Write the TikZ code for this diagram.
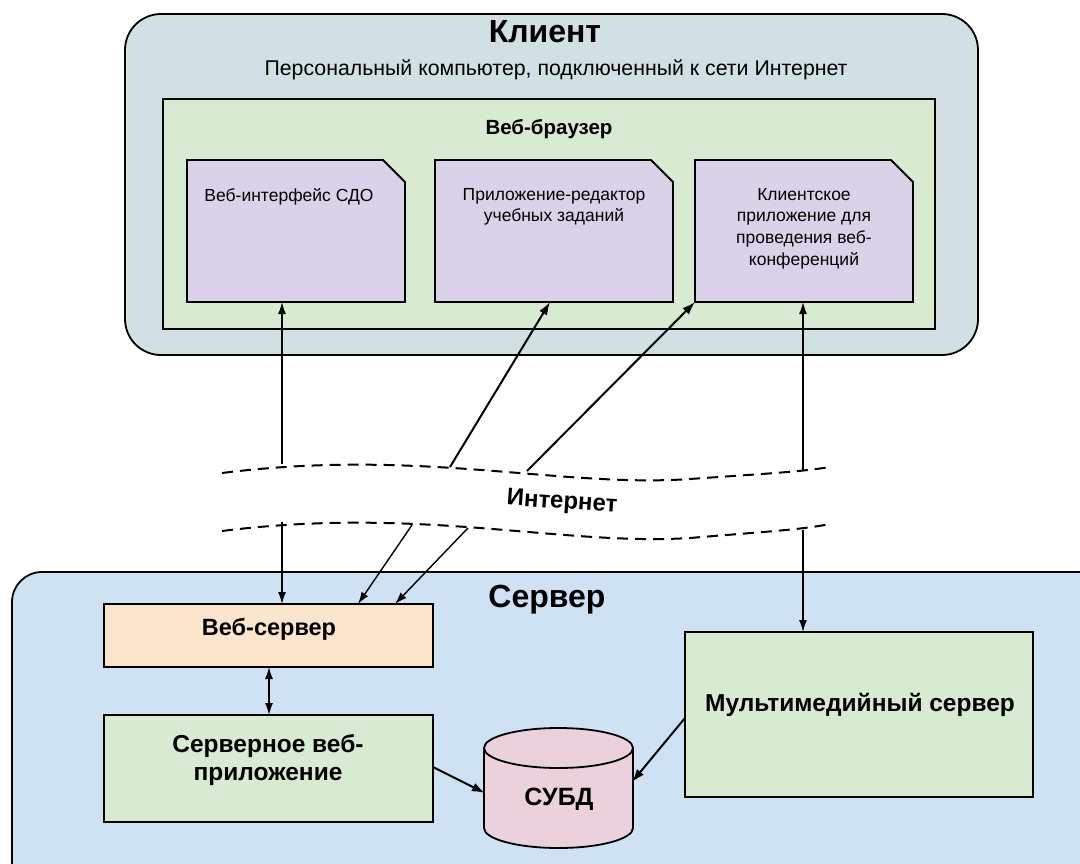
\documentclass[tikz,border=0pt]{standalone}
\usepackage{fontspec}
\setmainfont{Liberation Sans}
\usetikzlibrary{arrows.meta,shapes.geometric}

\definecolor{clientbg}{HTML}{D0E0E3}
\definecolor{serverbg}{HTML}{CFE2F3}
\definecolor{greenbg}{HTML}{D9EAD3}
\definecolor{purplebg}{HTML}{D9D2E9}
\definecolor{orangebg}{HTML}{FCE5CD}
\definecolor{pinkbg}{HTML}{EAD1DC}

\tikzset{
  frame/.style={draw=black, line width=1.8pt},
  conn/.style={line width=1.4pt, -{Latex[length=12pt,width=8pt]}},
  bconn/.style={line width=1.4pt, {Latex[length=12pt,width=8pt]}-{Latex[length=12pt,width=8pt]}},
  thickconn/.style={line width=2pt, -{Latex[length=13pt,width=9pt]}},
  netline/.style={line width=2pt, dash pattern=on 11pt off 7pt},
  doctext/.style={align=center, font=\fontsize{17.5}{21.7}\selectfont, anchor=north, inner sep=0pt},
  boldtext/.style={font=\bfseries\fontsize{24.5}{28}\selectfont, align=center},
}

\newcommand{\docbox}[5]{%
  % folded-corner document: name, left, top, right, bottom
  \filldraw[frame, fill=purplebg] (#2,#3) -- (#4-22,#3) -- (#4,#3+22) -- (#4,#5) -- (#2,#5) -- cycle;
  \coordinate (#1) at ({(#2+#4)/2},{(#3+#5)/2});
}

\begin{document}
\begin{tikzpicture}[x=1pt,y=-1pt]
\useasboundingbox (0,0) rectangle (1080,863);
\clip (0,0) rectangle (1080,863);
\fill[white] (0,0) rectangle (1080,863);

% ---------- client side ----------
\filldraw[frame, fill=clientbg, rounded corners=36pt] (125,14) rectangle (978,355);
\node[font=\bfseries\fontsize{32}{34}\selectfont] (clienttitle) at (545,32) {Клиент};
\node[font=\fontsize{21.3}{24}\selectfont] (clientsub) at (556,70) {Персональный компьютер, подключенный к сети Интернет};

\filldraw[frame, fill=greenbg] (163,99) rectangle (935,329);
\node[font=\bfseries\fontsize{20.5}{24}\selectfont] (browsertitle) at (549,129) {Веб-браузер};

\docbox{lms}{187}{160}{405}{302}
\docbox{editor}{435}{160}{673}{302}
\docbox{conf}{695}{160}{913}{302}
\node[doctext] (lmstext) at (289,188) {Веб-интерфейс СДО};
\node[doctext] (editortext) at (554,188) {Приложение-редактор\\учебных заданий};
\node[doctext] (conftext) at (804,188) {Клиентское\\приложение для\\проведения веб-\\конференций};

\coordinate (lmsB) at (282,302);
\coordinate (editorB) at (550,302);
\coordinate (confBL) at (695,302);
\coordinate (confB) at (803,302);

% ---------- internet band ----------
\draw[netline] (222,473) .. controls (420,448) and (560,488) .. (690,479) .. controls (760,474) and (800,472) .. (830,467);
\draw[netline] (222,531) .. controls (420,506) and (560,546) .. (690,538) .. controls (760,532) and (800,530) .. (830,524);
\node[font=\bfseries\fontsize{24}{28}\selectfont, rotate=-4] (net) at (562,503) {Интернет};

\coordinate (u1) at (282,464);
\coordinate (u2) at (450,467);
\coordinate (u3) at (527,471);
\coordinate (u4) at (803,471);
\coordinate (l1) at (282,522);
\coordinate (l2) at (412,525);
\coordinate (l3) at (468,528);
\coordinate (l4) at (803,530);

% ---------- server side ----------
\filldraw[frame, fill=serverbg, rounded corners=30pt] (12,572) rectangle (1110,900);
\node[font=\bfseries\fontsize{32}{34}\selectfont] (servertitle) at (547,600) {Сервер};

\filldraw[frame, fill=orangebg] (104,604) rectangle (433,667);
\node[boldtext, font=\bfseries\fontsize{23.5}{26}\selectfont] (websrv) at (269,629) {Веб-сервер};
\coordinate (websrvT1) at (282,604);
\coordinate (websrvT2) at (358,604);
\coordinate (websrvT3) at (395,604);
\coordinate (websrvB) at (269,667);

\filldraw[frame, fill=greenbg] (104,715) rectangle (433,822);
\node[boldtext] (webapp) at (268,760) {Серверное веб-\\приложение};
\coordinate (webappT) at (269,715);
\coordinate (webappR) at (433,767);

\filldraw[frame, fill=greenbg] (685,632) rectangle (1033,797);
\node[boldtext] (media) at (860,705) {Мультимедийный сервер};
\coordinate (mediaT) at (803,632);
\coordinate (mediaL) at (685,718);

% database cylinder (y axis points down here)
\filldraw[frame, fill=pinkbg] (484,748) -- (484,828) arc[start angle=180, end angle=0, x radius=74.5, y radius=20] -- (633,748) arc[start angle=0, end angle=-180, x radius=74.5, y radius=20] -- cycle;
\draw[frame] (484,748) arc[start angle=180, end angle=0, x radius=74.5, y radius=20];
\node[font=\bfseries\fontsize{25}{28}\selectfont] (dbms) at (559,799) {СУБД};
\coordinate (dbmsL) at (485,793);
\coordinate (dbmsR) at (632,782);

% ---------- connectors ----------
\draw[conn] (u1) -- (lmsB);
\draw[thickconn] (u2) -- (editorB);
\draw[thickconn] (u3) -- (confBL);
\draw[conn] (u4) -- (confB);

\draw[conn] (l1) -- (websrvT1);
\draw[conn] (l2) -- (websrvT2);
\draw[conn] (l3) -- (websrvT3);
\draw[conn] (l4) -- (mediaT);

\draw[bconn] (websrvB) -- (webappT);
\draw[thickconn] (webappR) -- (dbmsL);
\draw[thickconn] (mediaL) -- (dbmsR);
\end{tikzpicture}
\end{document}
